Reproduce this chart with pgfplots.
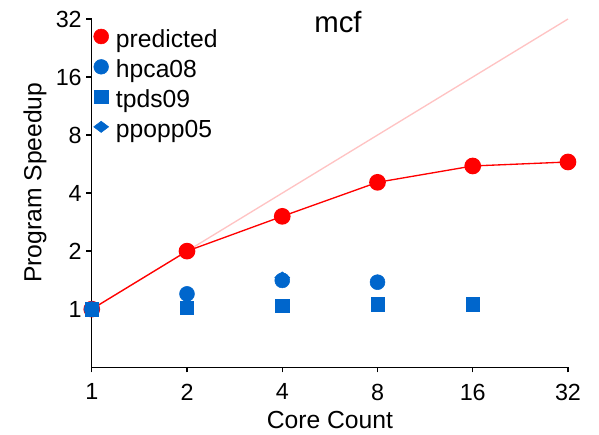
\documentclass[border=0pt]{standalone}
\usepackage{pgfplots}
\pgfplotsset{compat=1.18}
\usepackage{fontspec}
\setmainfont{Liberation Sans}
\definecolor{predred}{RGB}{255,0,0}
\definecolor{bblue}{RGB}{0,102,204}
\definecolor{ideal}{RGB}{255,195,195}
\begin{document}
\begin{tikzpicture}
\begin{axis}[
  name=ax,
  scale only axis,
  width=357pt, height=261pt,
  xmode=log, ymode=log,
  log basis x=2, log basis y=2,
  xmin=1, xmax=32, ymin=0.5, ymax=32,
  xtick={1,2,4,8,16,32}, xticklabels={1,2,4,8,16,32},
  ytick={1,2,4,8,16,32}, yticklabels={1,2,4,8,16,32},
  /pgf/number format/assume math mode=true,
  axis lines*=left,
  axis line style={black, line width=1pt},
  tick align=outside,
  major tick length=4pt,
  tick style={black, line width=1pt},
  clip=false,
  font=\fontsize{18.5pt}{21pt}\selectfont,
  tick label style={font=\fontsize{17.5pt}{20pt}\selectfont},
  xticklabel style={yshift=-5pt},
  xlabel={Core Count},
  ylabel={Program Speedup},
  xlabel style={at={(axis description cs:0.5,0)}, anchor=center, yshift=-39.4pt},
  ylabel style={at={(axis description cs:-0.119,0.53)}, anchor=center},
  title={mcf},
  title style={at={(axis description cs:0.517,0.968)}, anchor=center, font=\fontsize{22pt}{24pt}\selectfont},
  legend style={draw=none, fill=none, at={(axis description cs:0.0,1.0)}, anchor=north west,
    xshift=1.25pt, yshift=-7.3pt,
    font=\fontsize{18.5pt}{21pt}\selectfont, row sep=5pt, inner sep=0pt,
    nodes={inner sep=0pt, text height=13.5pt, text depth=4pt},
    /tikz/every odd column/.append style={column sep=5.5pt}},
  legend image post style={yshift=3.5pt},
  legend cell align=left,
]
\addlegendimage{only marks, mark=*, mark size=5.6pt, color=predred}
\addlegendentry{predicted}
\addlegendimage{only marks, mark=*, mark size=5.5pt, color=bblue}
\addlegendentry{hpca08}
\addlegendimage{only marks, mark=square*, mark size=5pt, color=bblue}
\addlegendentry{tpds09}
\addlegendimage{only marks, mark=diamond*, mark size=5.6pt, mark options={rotate=90}, color=bblue}
\addlegendentry{ppopp05}
% ideal
\addplot[ideal, line width=1pt, forget plot] coordinates {(1,1) (32,32)};
% predicted
\addplot[predred, line width=1pt, mark=*, mark size=5.75pt, forget plot] coordinates {
(1,1) (2,2) (4,3.03) (8,4.55) (16,5.53) (32,5.8)};
% tpds09
\addplot[only marks, bblue, mark=square*, mark size=5pt, forget plot] coordinates {
(1,1) (2,1.02) (4,1.04) (8,1.06) (16,1.06)};
% ppopp05
\addplot[only marks, bblue, mark=diamond*, mark size=5.6pt, mark options={rotate=90}, forget plot] coordinates {
(4,1.46)};
% hpca08
\addplot[only marks, bblue, mark=*, mark size=5.6pt, forget plot] coordinates {
(1,1) (2,1.2) (4,1.41) (8,1.38)};
\end{axis}
\pgfresetboundingbox
\path[use as bounding box] (ax.south west) ++(-68.8pt,-50.25pt) rectangle ([xshift=23.25pt,yshift=14.25pt]ax.north east);
\end{tikzpicture}
\end{document}
